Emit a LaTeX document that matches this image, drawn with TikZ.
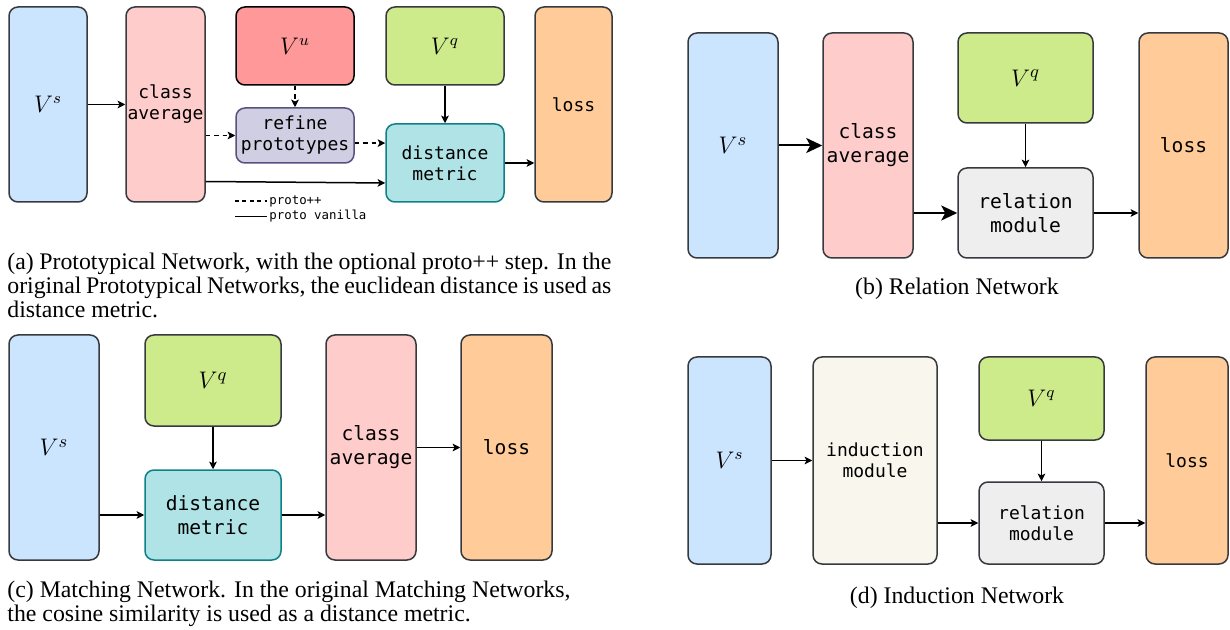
\documentclass[tikz,border=0pt]{standalone}
\usepackage{fontspec}
\setmainfont{Liberation Serif}
\setmonofont{DejaVu Sans Mono}
\usepackage{xcolor}
\usepackage{tikz}
\usetikzlibrary{arrows.meta,positioning}

\definecolor{edge}{HTML}{36393D}
\definecolor{vsblue}{HTML}{CCE5FF}
\definecolor{avgred}{HTML}{FFCCCC}
\definecolor{vured}{HTML}{FF9999}
\definecolor{vqgreen}{HTML}{CDEB8B}
\definecolor{lossor}{HTML}{FFCC99}
\definecolor{reffill}{HTML}{D0CEE2}
\definecolor{refedge}{HTML}{56517E}
\definecolor{distfill}{HTML}{B0E3E6}
\definecolor{distedge}{HTML}{0E8088}
\definecolor{relgray}{HTML}{EEEEEE}
\definecolor{indfill}{HTML}{F9F7ED}

\tikzset{
  blk/.style={draw=edge, line width=0.75pt, rounded corners=4.5pt, inner sep=0pt, align=center},
  txs/.style={font=\ttfamily\fontsize{9}{10.5}\selectfont},
  txl/.style={font=\ttfamily\fontsize{9.8}{12}\selectfont},
  mths/.style={font=\fontsize{11.5}{13}\selectfont},
  mthl/.style={font=\fontsize{12.5}{14}\selectfont},
  arr/.style={line width=0.75pt, -{Stealth[length=3.8pt,width=3.8pt,inset=0.9pt]}},
  bigarr/.style={line width=1pt, -{Stealth[length=8pt,width=7.5pt,inset=2pt]}},
  dsh/.style={arr, dash pattern=on 2.2pt off 2pt},
  capt/.style={font=\fontsize{11.9}{12.25}\selectfont, inner sep=0pt}
}

\begin{document}
\begin{tikzpicture}[x=0.5pt,y=-0.5pt]
\useasboundingbox (0,0) rectangle (1230,630);
%% (a) prototypical network
\node[blk, mths, fill=vsblue, minimum width=39pt, minimum height=97.5pt] (aVs) at (48,104.5) {$V^s$};
\node[blk, txs, fill=avgred, minimum width=39.5pt, minimum height=97.5pt] (aAvg) at (165.5,104.5) {class\\average};
\node[blk, mths, fill=vured, draw=black, minimum width=59pt, minimum height=39pt] (aVu) at (295,46) {$V^u$};
\node[blk, txs, fill=reffill, draw=refedge, minimum width=59pt, minimum height=27.5pt] (aRef) at (295,135.5) {refine\\prototypes};
\node[blk, mths, fill=vqgreen, minimum width=59pt, minimum height=39pt] (aVq) at (445,46) {$V^q$};
\node[blk, txs, fill=distfill, draw=distedge, minimum width=59pt, minimum height=39pt] (aDist) at (445,163) {distance\\metric};
\node[blk, txs, fill=lossor, minimum width=38.5pt, minimum height=97.5pt] (aLoss) at (573.5,104.5) {loss};
\draw[arr] (aVs.east) -- (aVs.east -| aAvg.west);
\draw[dsh] (aRef.west -| aAvg.east) -- (aRef.west);
\draw[dsh] ([yshift=-3.8pt]aRef.east) -- ([yshift=-3.8pt]aRef.east -| aDist.west);
\draw[dsh] (aVu) -- (aRef);
\draw[arr] (aVq) -- (aDist);
\draw[arr] ([yshift=-38.5pt]aAvg.east) -- ([yshift=-10pt]aDist.west);
\draw[arr] (aDist.east) -- (aDist.east -| aLoss.west);
%%legend
\path (235,201) coordinate (lgA) (267,201) coordinate (lgB)
      (235,216.5) coordinate (lgC) (267,216.5) coordinate (lgD);
\draw[line width=0.75pt, dash pattern=on 2pt off 1.7pt] (lgA) -- (lgB);
\draw[line width=0.75pt] (lgC) -- (lgD);
\path (lgB) node[anchor=west, inner sep=1pt, font=\ttfamily\fontsize{6.2}{7}\selectfont] (lgDash) {proto++}
      (lgD) node[anchor=west, inner sep=1pt, font=\ttfamily\fontsize{6.2}{7}\selectfont] (lgSolid) {proto vanilla};
%%caption, anchored at the baseline of its last line
\node[capt, anchor=base west, align=left] (capA) at (7,318)
  {\makebox[302pt][s]{(a) Prototypical Network, with the optional proto++ step. In the}\\
   \makebox[302pt][s]{original Prototypical Networks, the euclidean distance is used as}\\
   distance metric.};

%% (b) relation network
\node[blk, mthl, fill=vsblue, minimum width=45pt, minimum height=112.5pt] (bVs) at (733,145.5) {$V^s$};
\node[blk, txl, fill=avgred, minimum width=45pt, minimum height=112.5pt] (bAvg) at (868,145.5) {class\\average};
\node[blk, mthl, fill=vqgreen, minimum width=67.5pt, minimum height=45pt] (bVq) at (1025.5,78) {$V^q$};
\node[blk, txl, fill=relgray, minimum width=67.5pt, minimum height=45pt] (bRel) at (1025.5,213) {relation\\module};
\node[blk, txl, fill=lossor, minimum width=44.5pt, minimum height=112.5pt] (bLoss) at (1183.5,145.5) {loss};
\draw[bigarr] (bVs.east) -- (bVs.east -| bAvg.west);
\draw[bigarr] (bRel.west -| bAvg.east) -- (bRel.west);
\draw[arr] (bVq) -- (bRel);
\draw[arr] (bRel.east) -- (bRel.east -| bLoss.west);
\node[capt, anchor=base] (capB) at (957,295) {(b) Relation Network};

%% (c) matching network
\node[blk, mthl, fill=vsblue, minimum width=45pt, minimum height=112.5pt] (cVs) at (54,447.5) {$V^s$};
\node[blk, mthl, fill=vqgreen, minimum width=68pt, minimum height=45.5pt] (cVq) at (213,380.5) {$V^q$};
\node[blk, txl, fill=distfill, draw=distedge, minimum width=68pt, minimum height=45pt] (cDist) at (213,515) {distance\\metric};
\node[blk, txl, fill=avgred, minimum width=45pt, minimum height=112.5pt] (cAvg) at (371,447.5) {class\\average};
\node[blk, txl, fill=lossor, minimum width=45.5pt, minimum height=112.5pt] (cLoss) at (506.5,447.5) {loss};
\draw[arr] (cDist.west -| cVs.east) -- (cDist.west);
\draw[arr] (cVq) -- (cDist);
\draw[arr] (cDist.east) -- (cDist.east -| cAvg.west);
\draw[arr] (cAvg.east) -- (cAvg.east -| cLoss.west);
\node[capt, anchor=base west, align=left] (capC) at (7,621.5)
  {(c) Matching Network. In the original Matching Networks,\\
   the cosine similarity is used as a distance metric.};

%% (d) induction network
\node[blk, mths, fill=vsblue, minimum width=41.5pt, minimum height=103.5pt] (dVs) at (729.5,460.5) {$V^s$};
\node[blk, txs, fill=indfill, minimum width=62pt, minimum height=103.5pt] (dInd) at (875,460.5) {induction\\module};
\node[blk, mths, fill=vqgreen, minimum width=62.5pt, minimum height=41.5pt] (dVq) at (1041.5,398.5) {$V^q$};
\node[blk, txs, fill=relgray, minimum width=62.5pt, minimum height=41pt] (dRel) at (1041.5,523) {relation\\module};
\node[blk, txs, fill=lossor, minimum width=41pt, minimum height=103.5pt] (dLoss) at (1187,460.5) {loss};
\draw[arr] (dVs.east) -- (dVs.east -| dInd.west);
\draw[arr] (dRel.west -| dInd.east) -- (dRel.west);
\draw[arr] (dVq) -- (dRel);
\draw[arr] (dRel.east) -- (dRel.east -| dLoss.west);
\node[capt, anchor=base] (capD) at (957,603) {(d) Induction Network};
\end{tikzpicture}
\end{document}
